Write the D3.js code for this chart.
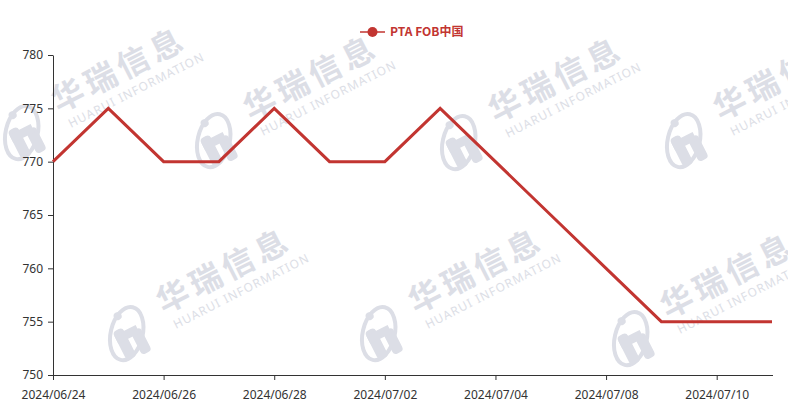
<!DOCTYPE html>
<html><head><meta charset="utf-8">
<script src="https://cdn.jsdelivr.net/npm/d3@7/dist/d3.min.js"></script>
<style>body{margin:0;background:#fff}svg{display:block}</style>
</head><body>
<svg id="c" width="788" height="414"></svg>
<script>
const categories = ["2024/06/24","2024/06/25","2024/06/26","2024/06/27","2024/06/28","2024/07/01","2024/07/02","2024/07/03","2024/07/04","2024/07/05","2024/07/08","2024/07/09","2024/07/10","2024/07/11"];
const values = [770,775,770,770,775,770,770,775,770,765,760,755,755,755];
const seriesName = "PTA FOB中国";
const yTicks = [750,755,760,765,770,775,780];

const svg = d3.select("#c");
const font = "'Noto Sans', 'Noto Sans CJK SC', sans-serif";
const red = "#c23531";

// watermarks
const wmPos = [[28,132],[220,140],[465,142],[690,140],[133,333],[385,333],[637,338]];
const wmColor = "#dcdee6";
wmPos.forEach(([x,y])=>{
  const g = svg.append("g").attr("transform",`translate(${x},${y}) rotate(-27)`);
  g.append("ellipse").attr("cx",-2).attr("cy",-6).attr("rx",27).attr("ry",16)
    .attr("transform","rotate(-50)").attr("fill","none").attr("stroke",wmColor).attr("stroke-width",4);
  g.append("rect").attr("x",-18).attr("y",-10).attr("width",11).attr("height",32).attr("rx",4).attr("fill",wmColor);
  g.append("rect").attr("x",-2).attr("y",-2).attr("width",11).attr("height",26).attr("rx",4).attr("fill",wmColor);
  g.append("rect").attr("x",-18).attr("y",-6).attr("width",24).attr("height",9).attr("fill",wmColor);
  g.append("circle").attr("cx",-6).attr("cy",-22).attr("r",4).attr("fill",wmColor);
  g.append("text").attr("x",36).attr("y",-3).attr("font-family","'Noto Sans CJK SC', sans-serif")
    .attr("font-weight","bold").attr("font-size",32).attr("fill",wmColor)
    .attr("textLength",142).attr("lengthAdjust","spacing").text("华瑞信息");
  g.append("text").attr("x",40).attr("y",16).attr("font-family","'Noto Sans', sans-serif")
    .attr("font-size",12).attr("fill",wmColor)
    .attr("textLength",150).attr("lengthAdjust","spacing").text("HUARUI INFORMATION");
});

const x = d3.scalePoint().domain(categories).range([53,772]);
const y = d3.scaleLinear().domain([750,780]).range([375,55]);

// y axis
const yAxis = svg.append("g").attr("transform","translate(53,0)")
  .call(d3.axisLeft(y).tickValues(yTicks).tickSize(5).tickPadding(5).tickSizeOuter(0));
yAxis.select(".domain").attr("stroke","#333");
yAxis.selectAll(".tick line").attr("stroke","#333");
yAxis.selectAll("text").attr("fill","#333").attr("font-size",12).attr("font-family",font);

// x axis
const xAxis = svg.append("g").attr("transform","translate(0,375)")
  .call(d3.axisBottom(x).tickValues(categories.filter((d,i)=>i%2===0)).tickSize(5).tickPadding(10).tickSizeOuter(0));
xAxis.select(".domain").attr("stroke","#333").attr("d","M53.5,0.5H773");
xAxis.selectAll(".tick line").attr("stroke","#333");
xAxis.selectAll("text").attr("fill","#333").attr("font-size",12).attr("font-family",font);

// line
const line = d3.line().x((d,i)=>x(categories[i])).y(d=>y(d));
svg.append("path").datum(values).attr("d",line).attr("fill","none")
  .attr("stroke",red).attr("stroke-width",3).attr("stroke-linejoin","miter");

// legend
const lg = svg.append("g").attr("transform","translate(360,32)");
lg.append("line").attr("x1",0).attr("x2",25).attr("y1",0).attr("y2",0).attr("stroke",red).attr("stroke-width",1.5);
lg.append("circle").attr("cx",12.5).attr("cy",0).attr("r",5).attr("fill",red);
lg.append("text").attr("x",30).attr("y",4).attr("font-family","'Noto Sans CJK SC', sans-serif")
  .attr("font-size",12).attr("font-weight","bold").attr("fill",red).text(seriesName);
</script>
</body></html>
